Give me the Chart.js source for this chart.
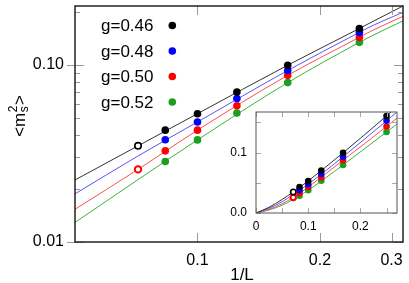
<!DOCTYPE html>
<html>
<head>
<meta charset="utf-8">
<script src="https://cdn.jsdelivr.net/npm/chart.js@4.4.1/dist/chart.umd.min.js"></script>
<style>
  body { margin: 0; background: #fff; }
  #wrap { position: relative; width: 409px; height: 283px; }
  #main { position: absolute; left: 0; top: 0; }
  #inset { position: absolute; left: 225px; top: 100px; }
</style>
</head>
<body>
<div id="wrap">
  <canvas id="main" width="409" height="283"></canvas>
  <canvas id="inset" width="184" height="140"></canvas>
</div>
<script>
// 1/L for L = 12, 10, 8, 6, 4
const invL = [1/12, 1/10, 1/8, 1/6, 1/4];
const invL14 = [1/14];
const labels = ['g=0.46', 'g=0.48', 'g=0.50', 'g=0.52'];

const m2_046 = [0.0428, 0.0530, 0.0703, 0.0996, 0.1605];
const m2_048 = [0.0378, 0.0476, 0.0646, 0.0930, 0.1525];
const m2_050 = [0.0327, 0.0428, 0.0588, 0.0873, 0.1430];
const m2_052 = [0.0285, 0.0377, 0.0535, 0.0794, 0.1340];

// L = 14 (open symbols)
const open_046 = [0.0349];
const open_050 = [0.0257];

// fit curves
const fitX = [0, 0.025, 0.05, 1/14, 0.1, 1/6, 0.25, 0.27, 0.32];
const fit_046 = [0, 0.0095, 0.0224, 0.0349, 0.0530, 0.0996, 0.1605, 0.176, 0.215];
const fit_048 = [0, 0.0078, 0.0187, 0.0306, 0.0476, 0.0930, 0.1525, 0.167, 0.198];
const fit_050 = [0, 0.0062, 0.0153, 0.0257, 0.0428, 0.0873, 0.1430, 0.157, 0.188];
const fit_052 = [0, 0.0050, 0.0129, 0.0225, 0.0377, 0.0794, 0.1340, 0.147, 0.177];

const xTicksMain = [0.1, 0.2, 0.3];
const yTicksMain = [0.01, 0.1];
const yMinorMain = [0.02, 0.03, 0.04, 0.05, 0.06, 0.07, 0.08, 0.09, 0.2];
const xTicksInset = [0, 0.1, 0.2];
const yTicksInset = [0, 0.1];
const xMinorInset = [0.05, 0.15, 0.25];
const yMinorInset = [0.05, 0.15];

const pointColors = ['#000000', '#0000ff', '#ff0000', '#1e9e1e'];
const lineColors = ['#333333', '#5555ff', '#ff5050', '#3cb43c'];
const FONT = "'Liberation Sans', Arial, sans-serif";

const series = [m2_046, m2_048, m2_050, m2_052];
const fits = [fit_046, fit_048, fit_050, fit_052];

const pts = (xs, ys) => xs.map((x, i) => ({ x: x, y: ys[i] }));

function buildDatasets(r, ro, fitFrom) {
  const ds = [];
  series.forEach((s, i) => {
    ds.push({
      label: labels[i], data: pts(invL, s), showLine: false,
      pointRadius: r, pointBorderWidth: 0,
      pointBackgroundColor: pointColors[i], pointBorderColor: pointColors[i]
    });
  });
  ds.push({ data: pts(invL14, open_046), showLine: false, pointRadius: ro, pointBorderWidth: 1.6,
    pointBackgroundColor: '#fff', pointBorderColor: '#000' });
  ds.push({ data: pts(invL14, open_050), showLine: false, pointRadius: ro, pointBorderWidth: 2,
    pointBackgroundColor: '#fff', pointBorderColor: '#ff0000' });
  fits.forEach((f, i) => {
    ds.push({
      data: pts(fitX.slice(fitFrom), f.slice(fitFrom)), showLine: true, pointRadius: 0,
      borderColor: lineColors[i], borderWidth: 1, cubicInterpolationMode: 'monotone'
    });
  });
  return ds;
}

// frame and inward tick marks
const frame = {
  id: 'frame',
  beforeDatasetsDraw(chart, args, o) {
    if (!o.fill) return;
    const a = chart.chartArea, ctx = chart.ctx;
    ctx.save();
    ctx.fillStyle = '#fff';
    ctx.fillRect(a.left, a.top, a.width, a.height);
    ctx.restore();
  },
  afterDatasetsDraw(chart, args, o) {
    const { ctx, chartArea: a, scales: { x, y } } = chart;
    ctx.save();
    ctx.strokeStyle = o.tickColor;
    ctx.lineWidth = 1;
    ctx.beginPath();
    const vx = (vals, len, out) => vals.forEach(v => {
      const p = Math.round(x.getPixelForValue(v)) + 0.5;
      ctx.moveTo(p, a.bottom + out); ctx.lineTo(p, a.bottom - len);
      ctx.moveTo(p, a.top); ctx.lineTo(p, a.top + len);
    });
    const vy = (vals, len, out) => vals.forEach(v => {
      const p = Math.round(y.getPixelForValue(v)) + 0.5;
      ctx.moveTo(a.left - out, p); ctx.lineTo(a.left + len, p);
      ctx.moveTo(a.right, p); ctx.lineTo(a.right - len, p);
    });
    vx(o.xMajor, o.major, 0);
    vx(o.xMinor, o.minor, 0);
    vy(o.yMajor, o.major, o.out);
    vy(o.yMinor, o.minor, 0);
    ctx.stroke();
    ctx.strokeStyle = o.frameColor;
    ctx.lineWidth = o.frameWidth;
    ctx.strokeRect(a.left, a.top, a.width, a.height);
    ctx.restore();
  }
};

// legend and axis titles of the main plot
const decor = {
  id: 'decor',
  afterDraw(chart) {
    const ctx = chart.ctx;
    ctx.save();
    ctx.fillStyle = '#000';
    ctx.font = '17px ' + FONT;
    ctx.textBaseline = 'middle';
    const rows = [25.5, 51, 76.5, 102];
    labels.forEach((t, i) => {
      ctx.fillStyle = '#000';
      ctx.textAlign = 'left';
      ctx.fillText(t, 101, rows[i] + 1);
      ctx.fillStyle = pointColors[i];
      ctx.beginPath();
      ctx.arc(172.3, rows[i], 3.8, 0, Math.PI * 2);
      ctx.fill();
    });

    // x title
    ctx.fillStyle = '#000';
    ctx.textAlign = 'center';
    ctx.font = '17px ' + FONT;
    ctx.fillText('1/L', 242, 275);

    // y title <m_s^2>
    ctx.translate(25, 116);
    ctx.rotate(-Math.PI / 2);
    ctx.textBaseline = 'alphabetic';
    ctx.textAlign = 'left';
    const big = '17px ' + FONT, small = '12px ' + FONT;
    ctx.font = big;
    const w1 = ctx.measureText('<m').width;
    const w3 = ctx.measureText('>').width;
    ctx.font = small;
    const w2 = Math.max(ctx.measureText('2').width, ctx.measureText('s').width) + 1;
    const x0 = -(w1 + w2 + w3) / 2;
    ctx.font = big;
    ctx.fillText('<m', x0, 0);
    ctx.fillText('>', x0 + w1 + w2, 0);
    ctx.font = small;
    ctx.fillText('2', x0 + w1 + 0.5, -8);
    ctx.fillText('s', x0 + w1 + 0.5, 3);
    ctx.restore();
  }
};

const tickFont = { family: FONT, size: 16 };

// fixed axis boxes, no extra padding for edge labels
const fixX = h => s => { s.height = h; s.paddingLeft = 0; s.paddingRight = 0; };
const fixY = w => s => { s.width = w; s.paddingTop = 0; s.paddingBottom = 0; };

new Chart(document.getElementById('main'), {
  type: 'scatter',
  data: { datasets: buildDatasets(3.8, 3.2, 2) },
  plugins: [frame, decor],
  options: {
    responsive: false, animation: false, devicePixelRatio: 1,
    layout: { padding: { top: 2, right: 2.5, left: 0, bottom: 0 } },
    plugins: {
      legend: { display: false }, tooltip: { enabled: false },
      frame: { xMajor: xTicksMain, xMinor: [], yMajor: yTicksMain, yMinor: yMinorMain,
        major: 9, minor: 5, out: 8, tickColor: '#9a9a9a', frameColor: '#222', frameWidth: 1.5 }
    },
    scales: {
      x: {
        type: 'logarithmic', min: 0.05, max: 0.32,
        afterBuildTicks: s => { s.ticks = xTicksMain.map(v => ({ value: v })); },
        afterFit: fixX(41),
        grid: { display: false, drawTicks: false }, border: { display: false },
        ticks: { font: tickFont, color: '#000', padding: 9, maxRotation: 0, autoSkip: false,
          callback: v => v.toFixed(1) }
      },
      y: {
        type: 'logarithmic', min: 0.01, max: 0.215,
        afterBuildTicks: s => { s.ticks = yTicksMain.map(v => ({ value: v })); },
        afterFit: fixY(75),
        grid: { display: false, drawTicks: false }, border: { display: false },
        ticks: { font: tickFont, color: '#000', padding: 11, autoSkip: false,
          callback: v => v.toFixed(2) }
      }
    }
  }
});

const insetFont = { family: FONT, size: 12 };

new Chart(document.getElementById('inset'), {
  type: 'scatter',
  data: { datasets: buildDatasets(3.3, 2.7, 0) },
  plugins: [frame],
  options: {
    responsive: false, animation: false, devicePixelRatio: 1,
    layout: { padding: { top: 12, right: 12, left: 0, bottom: 0 } },
    plugins: {
      legend: { display: false }, tooltip: { enabled: false },
      frame: { fill: true, xMajor: xTicksInset, xMinor: xMinorInset, yMajor: yTicksInset, yMinor: yMinorInset,
        major: 5, minor: 5, out: 0, tickColor: '#aaaaaa', frameColor: '#555', frameWidth: 1 }
    },
    scales: {
      x: {
        type: 'linear', min: 0, max: 0.27,
        afterBuildTicks: s => { s.ticks = xTicksInset.map(v => ({ value: v })); },
        afterFit: fixX(27),
        grid: { display: false, drawTicks: false }, border: { display: false },
        ticks: { font: insetFont, color: '#000', padding: 6, maxRotation: 0, autoSkip: false,
          callback: v => v === 0 ? '0' : v.toFixed(1) }
      },
      y: {
        type: 'linear', min: 0, max: 0.167,
        afterBuildTicks: s => { s.ticks = yTicksInset.map(v => ({ value: v })); },
        afterFit: fixY(31),
        grid: { display: false, drawTicks: false }, border: { display: false },
        ticks: { font: insetFont, color: '#000', padding: 9, autoSkip: false,
          callback: v => v.toFixed(1) }
      }
    }
  }
});
</script>
</body>
</html>
